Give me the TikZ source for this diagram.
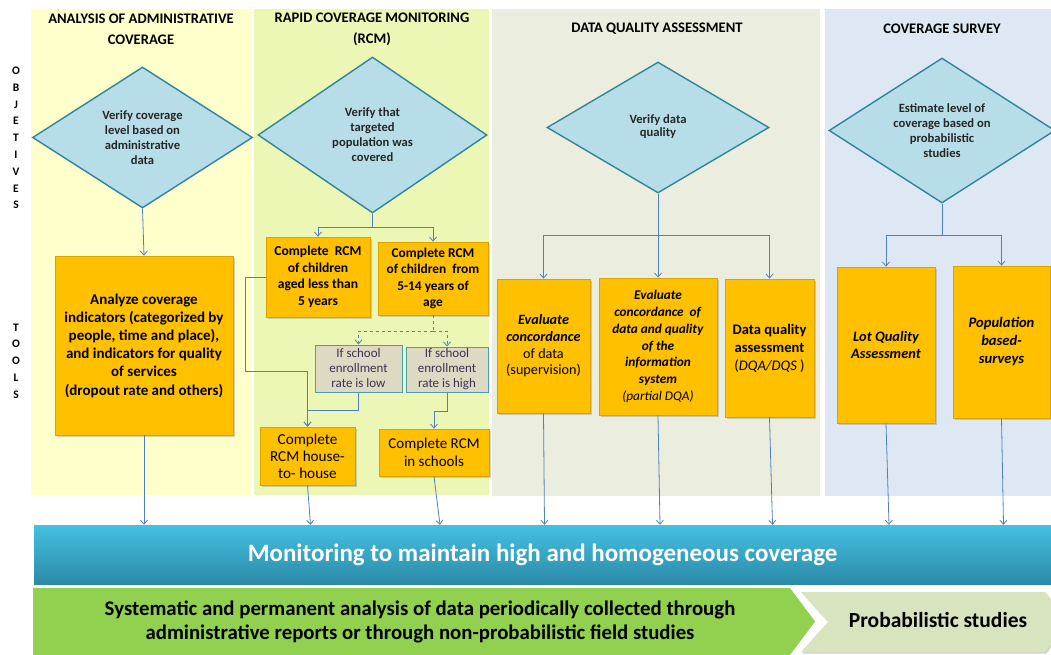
\documentclass[tikz,border=0pt]{standalone}
\usepackage{fontspec}
\setmainfont{Carlito}
\usetikzlibrary{shapes.geometric,arrows.meta,shadows,calc}
\definecolor{colA}{HTML}{FFFFCC}
\definecolor{colB}{HTML}{EDF7B5}
\definecolor{colC}{HTML}{EBEEDF}
\definecolor{colD}{HTML}{DEE8F4}
\definecolor{diaf}{HTML}{B7DEE8}
\definecolor{diad}{HTML}{31849B}
\definecolor{orf}{HTML}{FFC000}
\definecolor{ord}{HTML}{D9A300}
\definecolor{grf}{HTML}{DDD9C3}
\definecolor{grd}{HTML}{4A9DB5}
\definecolor{grt}{HTML}{403152}
\definecolor{connc}{HTML}{4F81BD}
\definecolor{bartop}{HTML}{45C0E2}
\definecolor{barbot}{HTML}{2B8AA7}
\definecolor{grn}{HTML}{92D050}
\definecolor{chevf}{HTML}{D7E4BD}
\begin{document}
\begin{tikzpicture}[x=1pt,y=-1pt,
  title/.style={font=\bfseries\fontsize{14.6}{21}\selectfont, align=center, inner sep=0pt, text=black},
  side/.style={font=\bfseries\fontsize{11.5}{16.8}\selectfont, align=center, inner sep=0pt},
  dia/.style={diamond, aspect=1.6, draw=diad, line width=1.4pt, fill=diaf, inner sep=0pt, align=center,
    font=\bfseries\fontsize{12.6}{15}\selectfont, text=black!85},
  obox/.style={rectangle, draw=ord, line width=0.8pt, fill=orf, inner sep=0pt, align=center,
    drop shadow={shadow xshift=1.5pt, shadow yshift=-1.5pt, opacity=0.35}},
  gbox/.style={rectangle, draw=grd, line width=1pt, fill=grf, inner sep=0pt, align=center, text=grt,
    font=\fontsize{13}{15}\selectfont},
  lnk/.style={draw=connc, line width=0.8pt},
  conn/.style={lnk, -{Straight Barb[length=4pt,width=7pt]}},
]
\useasboundingbox (0,0) rectangle (1051,655);
\clip (0,0) rectangle (1051,655);
% column backgrounds
\fill[colA] (31,9) rectangle (251,495);
\fill[colB] (254,9) rectangle (489,495);
\fill[colC] (492,9) rectangle (820,496);
\fill[colD] (825,9) rectangle (1051,496);

% titles
\node[title] (t1) at (141,29.5) {ANALYSIS OF ADMINISTRATIVE\\COVERAGE};
\node[title] (t2) at (372,29.5) {RAPID COVERAGE MONITORING\\(RCM)};
\node[title] (t3) at (657,29) {DATA QUALITY ASSESSMENT};
\node[title] (t4) at (942,29) {COVERAGE SURVEY};

% side labels
\node[side] (obj) at (16,138) {O\\B\\J\\E\\T\\I\\V\\E\\S};
\node[side] (tools) at (16,361) {T\\O\\O\\L\\S};

% diamonds
\node[dia, minimum width=220pt, minimum height=141pt] (d1) at (142.5,137.5) {Verify coverage\\level based on\\administrative\\data};
\node[dia, minimum width=229pt, minimum height=156pt] (d2) at (372.5,135) {Verify that\\targeted\\population was\\covered};
\node[dia, minimum width=222pt, minimum height=131pt] (d3) at (658,127.5) {\raisebox{12pt}{\begin{tabular}{@{}c@{}}Verify data\\[-2.5pt]quality\end{tabular}}};
\node[dia, minimum width=226pt, minimum height=145pt] (d4) at (942,130.5) {Estimate level of\\coverage based on\\probabilistic\\studies};

% orange boxes
\node[obox, minimum width=178pt, minimum height=179pt, font=\bfseries\fontsize{15}{18.2}\selectfont] (b1) at (144,345.5)
  {Analyze coverage\\indicators (categorized by\\people, time and place),\\and indicators for quality\\of services\\(dropout rate and others)};
\node[obox, minimum width=104pt, minimum height=80pt, font=\bfseries\fontsize{13.6}{16.5}\selectfont] (b2a) at (318,277)
  {Complete~~RCM\\of children\\aged less than\\5 years};
\node[obox, minimum width=110pt, minimum height=73pt, font=\bfseries\fontsize{13.4}{16.5}\selectfont] (b2b) at (433,278.5)
  {Complete RCM\\of children~ from\\5-14 years of\\age};
\node[gbox, minimum width=87pt, minimum height=47pt] (g1) at (358.5,368.5) {If school\\enrollment\\rate is low};
\node[gbox, minimum width=82pt, minimum height=45pt] (g2) at (447,369.5) {If school\\enrollment\\rate is high};
\node[obox, minimum width=95pt, minimum height=58pt, font=\fontsize{15.2}{17}\selectfont] (b2c) at (307.5,456)
  {Complete\\RCM house-\\to- house};
\node[obox, minimum width=110pt, minimum height=47pt, font=\fontsize{15}{18}\selectfont] (b2d) at (434,452.5)
  {Complete RCM\\in schools};
\node[obox, minimum width=93pt, minimum height=134pt, font=\fontsize{14.2}{16.7}\selectfont] (b3a) at (543.5,346)
  {\textbf{\textit{Evaluate}}\\\textbf{\textit{concordance}}\\of data\\(supervision)};
\node[obox, minimum width=118pt, minimum height=137pt, font=\fontsize{13.3}{16.7}\selectfont] (b3b) at (658,346.5)
  {\textbf{\textit{Evaluate}}\\\textbf{\textit{concordance~ of}}\\\textbf{\textit{data and quality}}\\\textbf{\textit{of the}}\\\textbf{\textit{information}}\\\textbf{\textit{system}}\\\textit{(partial DQA)}};
\node[obox, minimum width=89pt, minimum height=138pt, font=\fontsize{14.6}{18}\selectfont] (b3c) at (769.5,348)
  {\textbf{Data quality}\\\textbf{assessment}\\(\textit{DQA/DQS} )};
\node[obox, minimum width=98pt, minimum height=156pt, font=\bfseries\itshape\fontsize{14.4}{17.5}\selectfont] (b4a) at (886,345)
  {Lot Quality\\Assessment};
\node[obox, minimum width=97pt, minimum height=152pt, font=\bfseries\itshape\fontsize{14.6}{18}\selectfont] (b4b) at (1001.5,342)
  {Population\\based-\\surveys};

% bottom bars
\node[rectangle, minimum width=1017pt, minimum height=59pt, top color=bartop, bottom color=barbot, draw=none, inner sep=0pt,
  text=white, font=\bfseries\fontsize{25}{28}\selectfont] (mon) at (542.5,554.5)
  {Monitoring to maintain high and homogeneous coverage};
\fill[grn] (33,588) -- (790,588) -- (815,621.5) -- (790,655) -- (33,655) -- cycle;
\node[align=center, inner sep=0pt, font=\bfseries\fontsize{20.8}{24}\selectfont] (sys) at (420,622)
  {Systematic and permanent analysis of data periodically collected through\\administrative reports or through non-probabilistic field studies};
\fill[chevf, drop shadow={shadow xshift=1.5pt, shadow yshift=-1.5pt, opacity=0.35}]
  (801,592) -- (1045,592) -- (1068,622) -- (1045,652) -- (801,652) -- (828,622) -- cycle;
\node[inner sep=0pt, font=\bfseries\fontsize{21.5}{24}\selectfont] (prob) at (938,620) {Probabilistic studies};

% connectors column 1
\draw[conn] (d1.south) -- (b1.north);
\draw[conn] (b1.south) -- (b1.south |- mon.north);
% column 2
\draw[lnk] (d2.south) -- ++(0,14) coordinate (j2);
\draw[conn] (j2) -| (b2a.north);
\draw[conn] (j2) -| (b2b.north);
\draw[lnk, dashed] (b2b.south) -- ++(0,16) coordinate (j5);
\draw[conn, dashed] (j5) -| (g1.north);
\draw[conn, dashed] (j5) -| (g2.north);
\draw[conn] (g1.south) -- ++(0,18) -| (b2c.north);
\draw[conn] (g2.south) -- ++(0,19) -| (b2d.north);
\draw[conn] (b2a.west) -- ++(-20,0) |- ([yshift=55pt]b2c.north) -- (b2c.north);
\draw[conn] (b2c.south) -- ($(b2c.south |- mon.north)+(3,0)$);
\draw[conn] (b2d.south) -- ($(b2d.south |- mon.north)+(6,0)$);
% column 3
\draw[lnk] (d3.south) -- ++(0,42) coordinate (j3);
\draw[conn] (j3) -| (b3a.north);
\draw[conn] (j3) -- (b3b.north);
\draw[conn] (j3) -| (b3c.north);
\draw[conn] (b3a.south) -- ($(b3a.south |- mon.north)+(1,0)$);
\draw[conn] (b3b.south) -- ($(b3b.south |- mon.north)+(2,0)$);
\draw[conn] (b3c.south) -- ($(b3c.south |- mon.north)+(3,0)$);
% column 4
\draw[lnk] (d4.south) -- ++(0,32) coordinate (j4);
\draw[conn] (j4) -| (b4a.north);
\draw[conn] (j4) -| (b4b.north);
\draw[conn] (b4a.south) -- ($(b4a.south |- mon.north)+(3,0)$);
\draw[conn] (b4b.south) -- ($(b4b.south |- mon.north)+(2,0)$);
\end{tikzpicture}
\end{document}
